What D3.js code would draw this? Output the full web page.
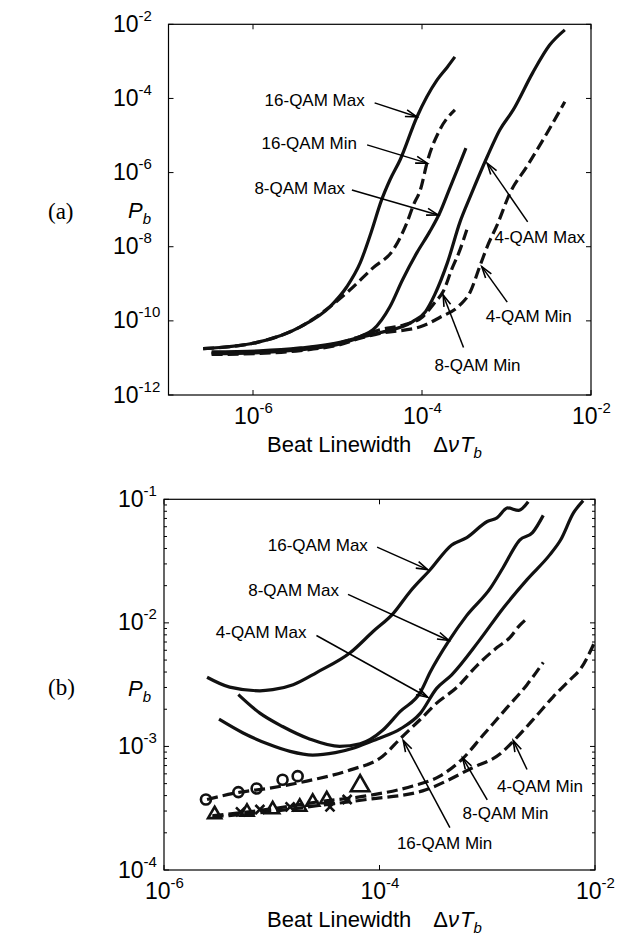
<!DOCTYPE html>
<html>
<head>
<meta charset="utf-8">
<script src="https://cdn.jsdelivr.net/npm/d3@7/dist/d3.min.js"></script>
<style>
  body { margin: 0; background: #fff; }
  svg { display: block; }
</style>
</head>
<body>
<svg id="fig" width="627" height="943"></svg>
<script>
// ---------- Panel (a): bit error probability vs beat linewidth ----------
const aQam16Max = [[2.57e-7,1.78e-11],[1.12e-6,2.63e-11],[3.63e-6,6.92e-11],[8.13e-6,2.40e-10],[1.29e-5,8.32e-10],[1.86e-5,3.72e-9],[2.51e-5,2.51e-8],[3.31e-5,1.78e-7],[4.17e-5,6.31e-7],[5.50e-5,2.19e-6],[8.71e-5,3.16e-5],[1.51e-4,3.16e-4],[2.00e-4,7.08e-4],[2.45e-4,1.32e-3]];
const aQam16Min = [[2.57e-7,1.78e-11],[1.12e-6,2.63e-11],[3.63e-6,6.92e-11],[8.13e-6,2.40e-10],[1.29e-5,5.75e-10],[2.63e-5,2.69e-9],[4.57e-5,8.32e-9],[6.61e-5,4.37e-8],[7.94e-5,1.35e-7],[9.55e-5,3.39e-7],[1.17e-4,2.19e-6],[1.62e-4,1.41e-5],[2.45e-4,4.90e-5]];
const aQam8Max  = [[3.24e-7,1.45e-11],[1.20e-6,1.55e-11],[3.63e-6,1.86e-11],[1.07e-5,2.63e-11],[1.86e-5,3.80e-11],[2.63e-5,5.75e-11],[4.17e-5,2.40e-10],[5.89e-5,1.29e-9],[8.71e-5,6.92e-9],[1.23e-4,2.51e-8],[1.62e-4,8.13e-8],[2.14e-4,3.89e-7],[2.69e-4,1.41e-6],[3.31e-4,4.57e-6]];
const aQam8Min  = [[3.24e-7,1.38e-11],[1.20e-6,1.48e-11],[3.63e-6,1.78e-11],[1.07e-5,2.57e-11],[1.86e-5,3.80e-11],[3.16e-5,5.75e-11],[6.31e-5,7.94e-11],[1.02e-4,1.29e-10],[1.41e-4,3.09e-10],[1.78e-4,6.17e-10],[2.24e-4,2.40e-9],[2.82e-4,8.32e-9],[3.39e-4,2.88e-8]];
const aQam4Max  = [[3.24e-7,1.30e-11],[1.20e-6,1.38e-11],[3.63e-6,1.66e-11],[1.07e-5,2.40e-11],[1.86e-5,3.55e-11],[3.16e-5,4.79e-11],[7.76e-5,9.55e-11],[1.10e-4,1.78e-10],[1.41e-4,5.01e-10],[2.00e-4,3.72e-9],[2.82e-4,4.68e-8],[3.72e-4,2.24e-7],[5.89e-4,2.63e-6],[8.32e-4,1.41e-5],[1.20e-3,4.90e-5],[2.04e-3,4.90e-4],[3.24e-3,2.75e-3],[4.90e-3,7.08e-3]];
const aQam4Min  = [[3.24e-7,1.24e-11],[1.20e-6,1.32e-11],[3.63e-6,1.58e-11],[1.07e-5,2.29e-11],[1.86e-5,3.39e-11],[3.16e-5,4.57e-11],[9.55e-5,6.92e-11],[1.62e-4,1.23e-10],[2.82e-4,2.69e-10],[3.72e-4,6.03e-10],[4.90e-4,3.24e-9],[6.03e-4,1.12e-8],[7.76e-4,3.89e-8],[1.10e-3,2.82e-7],[1.74e-3,1.45e-6],[3.02e-3,1.17e-5],[4.90e-3,8.13e-5]];

// ---------- Panel (b) ----------
const bQam16Max = [[2.51e-6,3.63e-3],[4.07e-6,3.02e-3],[7.76e-6,2.82e-3],[1.02e-5,2.88e-3],[1.58e-5,3.16e-3],[2.63e-5,3.98e-3],[5.37e-5,5.75e-3],[8.71e-5,8.51e-3],[1.35e-4,1.20e-2],[1.91e-4,1.78e-2],[2.95e-4,2.69e-2],[4.68e-4,4.27e-2],[6.46e-4,4.90e-2],[1.00e-3,6.61e-2],[1.23e-3,7.08e-2],[1.55e-3,8.51e-2],[1.95e-3,8.13e-2],[2.40e-3,9.55e-2]];
const bQam8Max  = [[4.90e-6,2.63e-3],[7.76e-6,1.86e-3],[1.26e-5,1.45e-3],[2.24e-5,1.15e-3],[4.27e-5,1.00e-3],[6.61e-5,1.05e-3],[1.07e-4,1.35e-3],[1.55e-4,1.91e-3],[2.40e-4,2.75e-3],[2.95e-4,3.98e-3],[4.37e-4,7.08e-3],[6.46e-4,1.15e-2],[1.07e-3,1.91e-2],[1.41e-3,2.82e-2],[2.00e-3,4.68e-2],[2.63e-3,5.37e-2],[3.31e-3,7.41e-2]];
const bQam4Max  = [[3.24e-6,1.66e-3],[5.37e-6,1.29e-3],[9.12e-6,1.05e-3],[1.48e-5,9.12e-4],[2.40e-5,8.51e-4],[3.89e-5,8.91e-4],[5.89e-5,9.77e-4],[9.55e-5,1.15e-3],[1.55e-4,1.38e-3],[2.40e-4,1.86e-3],[3.39e-4,2.95e-3],[4.68e-4,3.80e-3],[8.32e-4,7.08e-3],[1.41e-3,1.32e-2],[2.34e-3,2.24e-2],[3.80e-3,3.55e-2],[4.79e-3,4.68e-2],[6.31e-3,7.76e-2],[7.76e-3,9.77e-2]];
const bQam16Min = [[2.51e-6,3.72e-4],[5.13e-6,4.27e-4],[9.12e-6,4.57e-4],[2.40e-5,5.37e-4],[5.37e-5,6.46e-4],[1.07e-4,8.32e-4],[1.55e-4,1.15e-3],[2.40e-4,1.66e-3],[3.39e-4,2.24e-3],[5.25e-4,3.02e-3],[7.94e-4,4.47e-3],[1.23e-3,6.31e-3],[1.62e-3,7.59e-3],[2.00e-3,9.55e-3],[2.24e-3,1.05e-2]];
const bQam8Min  = [[2.82e-6,2.75e-4],[9.12e-6,3.09e-4],[2.63e-5,3.55e-4],[7.59e-5,3.98e-4],[2.04e-4,4.79e-4],[3.63e-4,5.75e-4],[5.89e-4,7.94e-4],[9.12e-4,1.23e-3],[1.51e-3,2.04e-3],[2.34e-3,3.16e-3],[3.31e-3,4.79e-3]];
const bQam4Min  = [[2.82e-6,2.69e-4],[9.12e-6,2.95e-4],[2.63e-5,3.31e-4],[7.59e-5,3.72e-4],[2.51e-4,4.37e-4],[7.41e-4,6.76e-4],[1.32e-3,8.71e-4],[1.74e-3,1.10e-3],[2.75e-3,1.70e-3],[4.07e-3,2.51e-3],[5.89e-3,3.47e-3],[7.24e-3,4.17e-3],[1.00e-2,7.08e-3]];

// measured points (simulation / experiment markers)
const bCircles        = [[2.45e-6,3.72e-4],[4.90e-6,4.27e-4],[7.24e-6,4.57e-4],[1.26e-5,5.37e-4],[1.74e-5,5.75e-4]];
const bTriangles      = [[2.95e-6,2.82e-4],[5.89e-6,2.95e-4],[1.02e-5,3.09e-4],[1.82e-5,3.24e-4],[2.40e-5,3.55e-4],[3.24e-5,3.72e-4]];
const bTrianglesLarge = [[6.61e-5,4.79e-4]];
const bCrosses        = [[5.13e-6,2.95e-4],[7.76e-6,3.09e-4],[1.48e-5,3.24e-4],[3.47e-5,3.24e-4],[5.01e-5,3.72e-4]];

// axis ticks (decade exponents)
const aYTickExp = [-12, -10, -8, -6, -4, -2];
const aXTickExp = [-6, -4, -2];
const bYTickExp = [-4, -3, -2, -1];
const bXTickExp = [-6, -4, -2];

// curve annotations: label, text anchor point, arrow tail, arrow tip (data units)
const aNotes = [
  {text: "16-QAM Max", anchor: "end",   at: [2.10e-5, 6.3e-5],  tail: [2.75e-5, 7.6e-5],  tip: [8.7e-5, 3.2e-5]},
  {text: "16-QAM Min", anchor: "end",   at: [1.70e-5, 4.4e-6],  tail: [2.24e-5, 5.6e-6],  tip: [1.15e-4, 1.8e-6]},
  {text: "8-QAM Max",  anchor: "end",   at: [1.23e-5, 2.6e-7],  tail: [1.48e-5, 3.4e-7],  tip: [1.55e-4, 7.2e-8]},
  {text: "4-QAM Max",  anchor: "start", at: [7.2e-4, 1.29e-8],  tail: [1.78e-3, 4.7e-8],  tip: [5.9e-4, 1.8e-6]},
  {text: "4-QAM Min",  anchor: "start", at: [5.7e-4, 9.5e-11], tail: [1.02e-3, 3.2e-10], tip: [5.1e-4, 2.9e-9]},
  {text: "8-QAM Min",  anchor: "start", at: [1.41e-4, 4.5e-12], tail: [3.1e-4, 1.9e-11],  tip: [1.78e-4, 5.0e-10]}
];
const bNotes = [
  {text: "16-QAM Max", anchor: "end",   at: [7.8e-5, 3.8e-2],  tail: [9.5e-5, 4.1e-2],  tip: [2.8e-4, 2.7e-2]},
  {text: "8-QAM Max",  anchor: "end",   at: [4.2e-5, 1.66e-2], tail: [5.1e-5, 1.7e-2],  tip: [4.4e-4, 7.2e-3]},
  {text: "4-QAM Max",  anchor: "end",   at: [2.1e-5, 7.6e-3],  tail: [2.6e-5, 7.9e-3],  tip: [2.8e-4, 2.5e-3]},
  {text: "4-QAM Min",  anchor: "start", at: [1.23e-3, 4.3e-4], tail: [2.34e-3, 6.5e-4], tip: [1.74e-3, 1.12e-3]},
  {text: "8-QAM Min",  anchor: "start", at: [5.9e-4, 2.6e-4],  tail: [1.0e-3, 3.7e-4],  tip: [5.9e-4, 8.1e-4]},
  {text: "16-QAM Min", anchor: "start", at: [1.45e-4, 1.48e-4], tail: [4.5e-4, 2.2e-4], tip: [1.66e-4, 1.12e-3]}
];

// ---------- drawing ----------
const svg = d3.select("#fig");
const SANS = "'Liberation Sans', Arial, Helvetica, sans-serif";
const SERIF = "'Liberation Serif', 'Times New Roman', serif";
const INK = "#000";

function decadeLabel(g, exp) {
  g.append("tspan").text("10");
  g.append("tspan").attr("dy", -11).attr("font-size", 15).text(String(exp));
}

function drawPanel(cfg) {
  const {box, xDom, yDom} = cfg;
  const x = d3.scaleLog().domain(xDom).range([box.x0, box.x1]);
  const y = d3.scaleLog().domain(yDom).range([box.y1, box.y0]);
  const g = svg.append("g");

  const clipId = "clip-" + cfg.id;
  svg.append("clipPath").attr("id", clipId)
    .append("rect").attr("x", box.x0).attr("y", box.y0)
    .attr("width", box.x1 - box.x0).attr("height", box.y1 - box.y0);

  // minor y ticks on both sides
  if (cfg.minorY) {
    const minor = [];
    for (let e = Math.round(Math.log10(yDom[0])); e < Math.round(Math.log10(yDom[1])); e++)
      for (let m = 2; m <= 9; m++) minor.push(m * Math.pow(10, e));
    minor.forEach(v => {
      const yy = y(v);
      g.append("line").attr("x1", box.x0).attr("x2", box.x0 + 3).attr("y1", yy).attr("y2", yy)
        .attr("stroke", INK).attr("stroke-width", 1);
      g.append("line").attr("x1", box.x1).attr("x2", box.x1 - 3).attr("y1", yy).attr("y2", yy)
        .attr("stroke", INK).attr("stroke-width", 1);
    });
  }
  // major ticks and decade labels
  cfg.yTicks.forEach(e => {
    const yy = y(Math.pow(10, e));
    g.append("line").attr("x1", box.x0).attr("x2", box.x0 + 5).attr("y1", yy).attr("y2", yy)
      .attr("stroke", INK).attr("stroke-width", 1);
    g.append("line").attr("x1", box.x1).attr("x2", box.x1 - 5).attr("y1", yy).attr("y2", yy)
      .attr("stroke", INK).attr("stroke-width", 1);
    const t = g.append("text").attr("x", cfg.yLabelX).attr("y", yy + 7.5)
      .attr("font-family", SANS).attr("font-size", 23).attr("fill", INK);
    decadeLabel(t, e);
  });
  cfg.xTicks.forEach(e => {
    const xx = x(Math.pow(10, e));
    g.append("line").attr("x1", xx).attr("x2", xx).attr("y1", box.y1).attr("y2", box.y1 - 5)
      .attr("stroke", INK).attr("stroke-width", 1);
    g.append("line").attr("x1", xx).attr("x2", xx).attr("y1", box.y0).attr("y2", box.y0 + 5)
      .attr("stroke", INK).attr("stroke-width", 1);
    const t = g.append("text").attr("x", xx - 19).attr("y", box.y1 + 29)
      .attr("font-family", SANS).attr("font-size", 23).attr("fill", INK);
    decadeLabel(t, e);
  });

  // frame
  g.append("rect").attr("x", box.x0).attr("y", box.y0)
    .attr("width", box.x1 - box.x0).attr("height", box.y1 - box.y0)
    .attr("fill", "none").attr("stroke", INK).attr("stroke-width", 1.2);

  // curves
  const line = d3.line().x(d => x(d[0])).y(d => y(d[1])).curve(d3.curveMonotoneX);
  const curves = g.append("g").attr("clip-path", `url(#${clipId})`);
  cfg.series.forEach(s => {
    curves.append("path").attr("d", line(s.data))
      .attr("fill", "none").attr("stroke", "#111").attr("stroke-width", 3.2)
      .attr("stroke-linejoin", "round")
      .attr("stroke-dasharray", s.dashed ? "11,5" : null);
  });

  // markers
  if (cfg.markers) {
    const mk = curves.append("g").attr("fill", "none").attr("stroke", "#111").attr("stroke-width", 2.6);
    cfg.markers.circles.forEach(d => mk.append("circle").attr("cx", x(d[0])).attr("cy", y(d[1])).attr("r", 5));
    const tri = d3.symbol().type(d3.symbolTriangle).size(75);
    const triBig = d3.symbol().type(d3.symbolTriangle).size(150);
    cfg.markers.triangles.forEach(d => mk.append("path").attr("d", tri())
      .attr("transform", `translate(${x(d[0])},${y(d[1])})`));
    cfg.markers.trianglesLarge.forEach(d => mk.append("path").attr("d", triBig())
      .attr("transform", `translate(${x(d[0])},${y(d[1])})`));
    cfg.markers.crosses.forEach(d => {
      const cx = x(d[0]), cy = y(d[1]), r = 4.5;
      mk.append("path").attr("d", `M${cx - r},${cy - r}L${cx + r},${cy + r}M${cx - r},${cy + r}L${cx + r},${cy - r}`);
    });
  }

  // annotations with arrows
  cfg.notes.forEach(n => {
    g.append("text").attr("x", x(n.at[0])).attr("y", y(n.at[1]))
      .attr("text-anchor", n.anchor).attr("font-family", SANS).attr("font-size", 17)
      .attr("fill", INK).text(n.text);
    const x1 = x(n.tail[0]), y1 = y(n.tail[1]), x2 = x(n.tip[0]), y2 = y(n.tip[1]);
    g.append("line").attr("x1", x1).attr("y1", y1).attr("x2", x2).attr("y2", y2)
      .attr("stroke", INK).attr("stroke-width", 1.5);
    const ang = Math.atan2(y2 - y1, x2 - x1), L = 12, spread = 0.3;
    const hx1 = x2 - L * Math.cos(ang - spread), hy1 = y2 - L * Math.sin(ang - spread);
    const hx2 = x2 - L * Math.cos(ang + spread), hy2 = y2 - L * Math.sin(ang + spread);
    g.append("path").attr("d", `M${hx1},${hy1}L${x2},${y2}L${hx2},${hy2}`)
      .attr("fill", "none").attr("stroke", INK).attr("stroke-width", 1.6);
  });

  // axis titles
  const xt = g.append("text").attr("x", 267).attr("y", box.y1 + 57)
    .attr("font-family", SANS).attr("font-size", 22).attr("fill", INK);
  xt.append("tspan").text("Beat Linewidth");
  xt.append("tspan").attr("dx", 22).text("Δ");
  xt.append("tspan").attr("font-style", "italic").text("ν");
  xt.append("tspan").attr("font-style", "italic").attr("dx", 1).text("T");
  xt.append("tspan").attr("font-style", "italic").attr("font-size", 15).attr("dy", 6).text("b");

  const yt = g.append("text").attr("x", cfg.pLabel[0]).attr("y", cfg.pLabel[1])
    .attr("font-family", SANS).attr("font-size", 22).attr("fill", INK);
  yt.append("tspan").attr("font-style", "italic").text("P");
  yt.append("tspan").attr("font-style", "italic").attr("font-size", 15).attr("dy", 6).text("b");

  g.append("text").attr("x", 48).attr("y", cfg.tag[1]).attr("font-family", SERIF)
    .attr("font-size", 23).attr("fill", INK).text(cfg.tag[0]);
}

drawPanel({
  id: "a",
  box: {x0: 168.5, x1: 591, y0: 24.3, y1: 395},
  xDom: [1e-7, 1e-2], yDom: [1e-12, 1e-2],
  yTicks: aYTickExp, xTicks: aXTickExp, yLabelX: 113, minorY: false,
  series: [
    {data: aQam16Max}, {data: aQam16Min, dashed: true},
    {data: aQam8Max}, {data: aQam8Min, dashed: true},
    {data: aQam4Max}, {data: aQam4Min, dashed: true}
  ],
  notes: aNotes,
  pLabel: [128, 218], tag: ["(a)", 219]
});

drawPanel({
  id: "b",
  box: {x0: 164, x1: 595, y0: 499.3, y1: 870},
  xDom: [1e-6, 1e-2], yDom: [1e-4, 1e-1],
  yTicks: bYTickExp, xTicks: bXTickExp, yLabelX: 118, minorY: true,
  series: [
    {data: bQam16Max}, {data: bQam8Max}, {data: bQam4Max},
    {data: bQam16Min, dashed: true}, {data: bQam8Min, dashed: true}, {data: bQam4Min, dashed: true}
  ],
  markers: {circles: bCircles, triangles: bTriangles, trianglesLarge: bTrianglesLarge, crosses: bCrosses},
  notes: bNotes,
  pLabel: [128, 696], tag: ["(b)", 695]
});
</script>
</body>
</html>
